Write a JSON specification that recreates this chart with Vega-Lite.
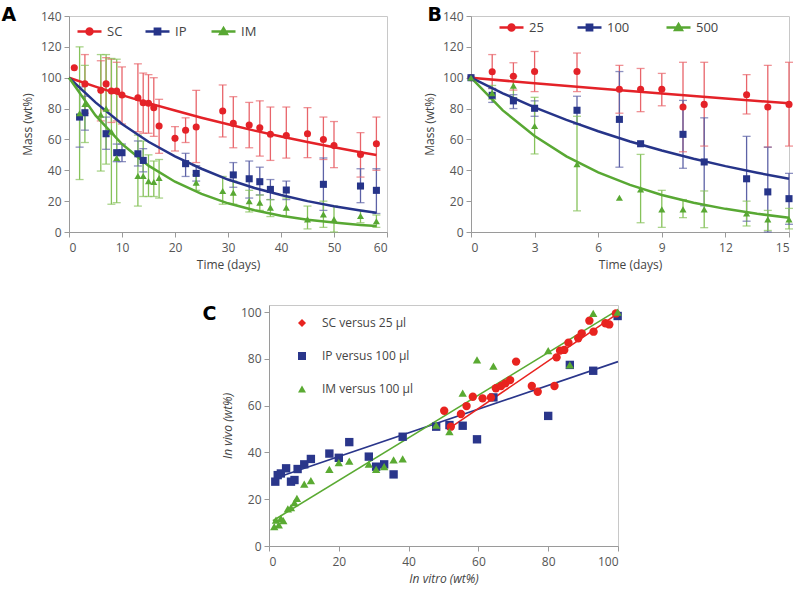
{
"$schema": "https://vega.github.io/schema/vega-lite/v6.json",
"padding": {"left": 0, "top": 5, "right": 0, "bottom": 0},
"background": "white",
"config": {
  "font": "Open Sans",
  "view": {"stroke": "#c8c8c8"},
  "axis": {"grid": false, "domainColor": "#9a9a9a", "tickColor": "#9a9a9a", "tickSize": 5, "labelFontSize": 12, "labelColor": "#555555", "titleFontSize": 12, "titleFontWeight": "normal", "titleColor": "#444444", "labelPadding": 3, "titlePadding": 6},
  "axisX": {"labelPadding": 5, "titlePadding": 6},
  "legend": {"labelFontSize": 13, "labelColor": "#444444", "padding": 0},
  "title": {"font": "DejaVu Sans", "fontSize": 19, "fontWeight": "bold", "color": "#000000"}
},
"datasets": {
  "a_pts": [
    {"g":"SC","d":1,"m":106.5},
    {"g":"SC","d":3,"m":96,"lo":77,"hi":115},
    {"g":"SC","d":6,"m":91.8,"lo":72,"hi":111},
    {"g":"SC","d":7,"m":96,"lo":79,"hi":113},
    {"g":"SC","d":8,"m":91.4,"lo":71,"hi":112},
    {"g":"SC","d":9,"m":91.4,"lo":72,"hi":110},
    {"g":"SC","d":10,"m":88.8,"lo":70,"hi":107},
    {"g":"SC","d":13,"m":87,"lo":65,"hi":109},
    {"g":"SC","d":14,"m":83.8,"lo":64,"hi":103},
    {"g":"SC","d":15,"m":83.4,"lo":64,"hi":102},
    {"g":"SC","d":16,"m":80.6,"lo":62,"hi":100},
    {"g":"SC","d":17,"m":68.7,"lo":51,"hi":86},
    {"g":"SC","d":20,"m":60.7,"lo":52.5,"hi":68.3},
    {"g":"SC","d":22,"m":66,"lo":58,"hi":74},
    {"g":"SC","d":24,"m":68,"lo":45,"hi":91.8},
    {"g":"SC","d":29,"m":78.4,"lo":61.6,"hi":95.3},
    {"g":"SC","d":31,"m":70.4,"lo":54.6,"hi":87.7},
    {"g":"SC","d":34,"m":69.3,"lo":54.6,"hi":84},
    {"g":"SC","d":36,"m":67.6,"lo":49.2,"hi":85},
    {"g":"SC","d":38,"m":63.3,"lo":46.4,"hi":81},
    {"g":"SC","d":41,"m":62.6,"lo":47.9,"hi":81},
    {"g":"SC","d":45,"m":63.7,"lo":48.2,"hi":80.6},
    {"g":"SC","d":48,"m":60,"lo":47,"hi":74.5},
    {"g":"SC","d":50,"m":56,"lo":41.7,"hi":71.6},
    {"g":"SC","d":55,"m":50.3,"lo":35.6,"hi":64.4},
    {"g":"SC","d":58,"m":57.2,"lo":40,"hi":74.5},
    {"g":"IP","d":2,"m":74.5,"lo":55,"hi":94},
    {"g":"IP","d":3,"m":77.3,"lo":66,"hi":88},
    {"g":"IP","d":7,"m":63.7,"lo":53.6,"hi":74.5},
    {"g":"IP","d":9,"m":51.4,"lo":45.6,"hi":57},
    {"g":"IP","d":10,"m":51.4,"lo":45.6,"hi":57},
    {"g":"IP","d":13,"m":50.7,"lo":42.8,"hi":59},
    {"g":"IP","d":14,"m":46.4,"lo":39,"hi":54},
    {"g":"IP","d":22,"m":44.3,"lo":36,"hi":51},
    {"g":"IP","d":24,"m":38,"lo":33,"hi":43},
    {"g":"IP","d":31,"m":37,"lo":29,"hi":45},
    {"g":"IP","d":34,"m":34.5,"lo":22,"hi":46},
    {"g":"IP","d":36,"m":32.6,"lo":24,"hi":42},
    {"g":"IP","d":38,"m":27.6,"lo":21,"hi":34},
    {"g":"IP","d":41,"m":27.2,"lo":21,"hi":33},
    {"g":"IP","d":48,"m":30.9,"lo":14,"hi":48},
    {"g":"IP","d":55,"m":29.8,"lo":19,"hi":41},
    {"g":"IP","d":58,"m":27,"lo":12,"hi":41},
    {"g":"IM","d":2,"m":77,"lo":34,"hi":120},
    {"g":"IM","d":3,"m":83,"lo":58,"hi":108},
    {"g":"IM","d":6,"m":76,"lo":39.5,"hi":115},
    {"g":"IM","d":7,"m":80,"lo":44,"hi":115},
    {"g":"IM","d":8,"m":65,"lo":18,"hi":112.5},
    {"g":"IM","d":9,"m":48,"lo":19,"hi":112},
    {"g":"IM","d":13,"m":36.3,"lo":16.8,"hi":62.8},
    {"g":"IM","d":14,"m":36.3,"lo":23,"hi":59},
    {"g":"IM","d":15,"m":33,"lo":23,"hi":50},
    {"g":"IM","d":16,"m":32.4,"lo":23,"hi":46},
    {"g":"IM","d":17,"m":35,"lo":22,"hi":47},
    {"g":"IM","d":24,"m":32,"lo":27,"hi":37},
    {"g":"IM","d":29,"m":26.6,"lo":18,"hi":36},
    {"g":"IM","d":31,"m":25.5,"lo":18,"hi":33},
    {"g":"IM","d":34,"m":20,"lo":13,"hi":27},
    {"g":"IM","d":36,"m":19,"lo":14,"hi":24},
    {"g":"IM","d":38,"m":15.8,"lo":10,"hi":21},
    {"g":"IM","d":41,"m":15.8,"lo":10,"hi":22},
    {"g":"IM","d":45,"m":8.2,"lo":2,"hi":16.8},
    {"g":"IM","d":48,"m":11.4,"lo":3,"hi":20},
    {"g":"IM","d":50,"m":8.2,"lo":0,"hi":16.8},
    {"g":"IM","d":55,"m":10.4,"lo":6,"hi":14},
    {"g":"IM","d":58,"m":7,"lo":3,"hi":11}
  ],
  "a_fit": [
    {"g":"SC","d":0,"m":100},{"g":"SC","d":5,"m":94.2},{"g":"SC","d":10,"m":88.7},{"g":"SC","d":15,"m":83.5},{"g":"SC","d":20,"m":78.7},{"g":"SC","d":25,"m":74.1},{"g":"SC","d":30,"m":69.8},{"g":"SC","d":35,"m":65.7},{"g":"SC","d":40,"m":61.9},{"g":"SC","d":45,"m":58.3},{"g":"SC","d":50,"m":54.9},{"g":"SC","d":55,"m":51.7},{"g":"SC","d":58,"m":49.9},
    {"g":"IP","d":0,"m":100},{"g":"IP","d":5,"m":84},{"g":"IP","d":10,"m":70},{"g":"IP","d":15,"m":58.5},{"g":"IP","d":20,"m":49},{"g":"IP","d":25,"m":41},{"g":"IP","d":30,"m":34},{"g":"IP","d":35,"m":28.5},{"g":"IP","d":40,"m":24},{"g":"IP","d":45,"m":20},{"g":"IP","d":50,"m":16.7},{"g":"IP","d":55,"m":14},{"g":"IP","d":58,"m":12.5},
    {"g":"IM","d":0,"m":100},{"g":"IM","d":5,"m":75.6},{"g":"IM","d":10,"m":57},{"g":"IM","d":15,"m":43},{"g":"IM","d":20,"m":32.6},{"g":"IM","d":25,"m":24.7},{"g":"IM","d":30,"m":18.6},{"g":"IM","d":35,"m":14.1},{"g":"IM","d":40,"m":10.6},{"g":"IM","d":45,"m":8},{"g":"IM","d":50,"m":6.1},{"g":"IM","d":55,"m":4.6},{"g":"IM","d":58,"m":3.9}
  ],
  "b_pts": [
    {"g":"25","d":0,"m":100},
    {"g":"25","d":1,"m":103.9,"lo":93,"hi":115},
    {"g":"25","d":2,"m":101,"lo":92,"hi":109.7},
    {"g":"25","d":3,"m":104,"lo":91,"hi":117},
    {"g":"25","d":5,"m":104,"lo":91,"hi":116},
    {"g":"25","d":7,"m":92.5,"lo":77,"hi":108},
    {"g":"25","d":8,"m":92.5,"lo":78,"hi":106},
    {"g":"25","d":9,"m":92.5,"lo":81.8,"hi":102.8},
    {"g":"25","d":10,"m":81,"lo":52,"hi":110},
    {"g":"25","d":11,"m":82.7,"lo":55.7,"hi":110},
    {"g":"25","d":13,"m":89,"lo":76.5,"hi":102},
    {"g":"25","d":14,"m":81,"lo":55,"hi":108},
    {"g":"25","d":15,"m":82.7,"lo":55.7,"hi":110},
    {"g":"100","d":0,"m":100},
    {"g":"100","d":1,"m":88.6,"lo":84,"hi":93},
    {"g":"100","d":2,"m":85,"lo":80,"hi":89},
    {"g":"100","d":3,"m":80.2,"lo":75,"hi":85},
    {"g":"100","d":5,"m":78.9,"lo":70,"hi":88},
    {"g":"100","d":7,"m":73,"lo":42,"hi":104},
    {"g":"100","d":8,"m":57.2},
    {"g":"100","d":10,"m":63.3,"lo":41.3,"hi":85.3},
    {"g":"100","d":11,"m":45.4,"lo":17,"hi":74},
    {"g":"100","d":13,"m":34.5,"lo":7,"hi":62},
    {"g":"100","d":14,"m":26,"lo":0,"hi":55},
    {"g":"100","d":15,"m":21.6,"lo":5,"hi":38},
    {"g":"500","d":0,"m":100},
    {"g":"500","d":1,"m":90,"lo":86,"hi":95},
    {"g":"500","d":2,"m":94.8,"lo":87,"hi":101},
    {"g":"500","d":3,"m":68.7,"lo":50.6,"hi":87.3},
    {"g":"500","d":5,"m":43.9,"lo":13.7,"hi":75},
    {"g":"500","d":7,"m":22.2},
    {"g":"500","d":8,"m":27.6,"lo":6,"hi":50.3},
    {"g":"500","d":9,"m":14.7,"lo":3,"hi":27},
    {"g":"500","d":10,"m":14.7,"lo":9.3,"hi":21},
    {"g":"500","d":11,"m":14.7,"lo":2.8,"hi":26.6},
    {"g":"500","d":13,"m":12.1,"lo":3.9,"hi":20},
    {"g":"500","d":14,"m":8.2,"lo":1,"hi":14},
    {"g":"500","d":15,"m":8.2,"lo":2,"hi":15.3}
  ],
  "b_fit": [
    {"g":"25","d":0,"m":100},{"g":"25","d":3,"m":96.4},{"g":"25","d":6,"m":93},{"g":"25","d":9,"m":89.7},{"g":"25","d":12,"m":86.5},{"g":"25","d":15,"m":83.4},
    {"g":"100","d":0,"m":100},{"g":"100","d":1.5,"m":89.9},{"g":"100","d":3,"m":80.8},{"g":"100","d":4.5,"m":72.7},{"g":"100","d":6,"m":65.3},{"g":"100","d":7.5,"m":58.7},{"g":"100","d":9,"m":52.8},{"g":"100","d":10.5,"m":47.5},{"g":"100","d":12,"m":42.7},{"g":"100","d":13.5,"m":38.4},{"g":"100","d":15,"m":34.5},
    {"g":"500","d":0,"m":100},{"g":"500","d":1.5,"m":78.8},{"g":"500","d":3,"m":62.2},{"g":"500","d":4.5,"m":49},{"g":"500","d":6,"m":38.7},{"g":"500","d":7.5,"m":30.5},{"g":"500","d":9,"m":24},{"g":"500","d":10.5,"m":19},{"g":"500","d":12,"m":15},{"g":"500","d":13.5,"m":11.8},{"g":"500","d":15,"m":9.3}
  ],
  "c_pts": [
    {"g":"IP versus 100 µl","x":1.8,"y":27.5},{"g":"IP versus 100 µl","x":2.5,"y":30.3},{"g":"IP versus 100 µl","x":3.4,"y":31},{"g":"IP versus 100 µl","x":4.9,"y":33.2},{"g":"IP versus 100 µl","x":6.3,"y":27.5},{"g":"IP versus 100 µl","x":7.3,"y":28.2},{"g":"IP versus 100 µl","x":8.2,"y":32.9},{"g":"IP versus 100 µl","x":10.1,"y":34.9},{"g":"IP versus 100 µl","x":12,"y":37.2},{"g":"IP versus 100 µl","x":17.3,"y":39.5},{"g":"IP versus 100 µl","x":20,"y":37.7},{"g":"IP versus 100 µl","x":23,"y":44.4},{"g":"IP versus 100 µl","x":28.6,"y":38.2},{"g":"IP versus 100 µl","x":30.7,"y":33.9},{"g":"IP versus 100 µl","x":33,"y":34.9},{"g":"IP versus 100 µl","x":35.7,"y":30.6},{"g":"IP versus 100 µl","x":38.3,"y":46.7},{"g":"IP versus 100 µl","x":47.9,"y":51},{"g":"IP versus 100 µl","x":51.7,"y":51.7},{"g":"IP versus 100 µl","x":55.5,"y":51.4},{"g":"IP versus 100 µl","x":59.6,"y":45.6},{"g":"IP versus 100 µl","x":64.3,"y":63.5},{"g":"IP versus 100 µl","x":80,"y":55.6},{"g":"IP versus 100 µl","x":86.2,"y":77.4},{"g":"IP versus 100 µl","x":92.9,"y":74.9},{"g":"IP versus 100 µl","x":99.9,"y":98.3},
    {"g":"SC versus 25 µl","x":50.2,"y":57.8},{"g":"SC versus 25 µl","x":52.1,"y":51},{"g":"SC versus 25 µl","x":55,"y":56.4},{"g":"SC versus 25 µl","x":56.6,"y":59.8},{"g":"SC versus 25 µl","x":58.4,"y":63.8},{"g":"SC versus 25 µl","x":61.2,"y":63.1},{"g":"SC versus 25 µl","x":63.6,"y":63.5},{"g":"SC versus 25 µl","x":65,"y":67.4},{"g":"SC versus 25 µl","x":66.5,"y":68.4},{"g":"SC versus 25 µl","x":67.7,"y":69.5},{"g":"SC versus 25 µl","x":69.1,"y":70.9},{"g":"SC versus 25 µl","x":70.8,"y":78.8},{"g":"SC versus 25 µl","x":75.3,"y":68.4},{"g":"SC versus 25 µl","x":77,"y":65.9},{"g":"SC versus 25 µl","x":81.8,"y":68.4},{"g":"SC versus 25 µl","x":82.4,"y":80.6},{"g":"SC versus 25 µl","x":83.4,"y":83.5},{"g":"SC versus 25 µl","x":84.6,"y":83.8},{"g":"SC versus 25 µl","x":85.8,"y":86.9},{"g":"SC versus 25 µl","x":88.6,"y":88.8},{"g":"SC versus 25 µl","x":89.6,"y":90.9},{"g":"SC versus 25 µl","x":91.8,"y":96.3},{"g":"SC versus 25 µl","x":93,"y":91.6},{"g":"SC versus 25 µl","x":96.4,"y":95.2},{"g":"SC versus 25 µl","x":97.5,"y":94.7},{"g":"SC versus 25 µl","x":99.4,"y":99.4},
    {"g":"IM versus 100 µl","x":1.5,"y":8.3},{"g":"IM versus 100 µl","x":2,"y":11.1},{"g":"IM versus 100 µl","x":2.8,"y":9},{"g":"IM versus 100 µl","x":3.4,"y":11.8},{"g":"IM versus 100 µl","x":4.1,"y":10.8},{"g":"IM versus 100 µl","x":5.4,"y":15.9},{"g":"IM versus 100 µl","x":6.3,"y":16.4},{"g":"IM versus 100 µl","x":7.3,"y":18.5},{"g":"IM versus 100 µl","x":8,"y":20.4},{"g":"IM versus 100 µl","x":10.1,"y":26.4},{"g":"IM versus 100 µl","x":12,"y":27.9},{"g":"IM versus 100 µl","x":17.3,"y":32.8},{"g":"IM versus 100 µl","x":20,"y":35.6},{"g":"IM versus 100 µl","x":23,"y":36.3},{"g":"IM versus 100 µl","x":28.6,"y":35},{"g":"IM versus 100 µl","x":30.7,"y":32.8},{"g":"IM versus 100 µl","x":33,"y":33.9},{"g":"IM versus 100 µl","x":35.7,"y":36.8},{"g":"IM versus 100 µl","x":38.3,"y":37.2},{"g":"IM versus 100 µl","x":47.9,"y":51.7},{"g":"IM versus 100 µl","x":51.7,"y":48.9},{"g":"IM versus 100 µl","x":55.5,"y":65.3},{"g":"IM versus 100 µl","x":59.6,"y":79.5},{"g":"IM versus 100 µl","x":64.3,"y":76.9},{"g":"IM versus 100 µl","x":80,"y":83.5},{"g":"IM versus 100 µl","x":86.2,"y":77.4},{"g":"IM versus 100 µl","x":92.9,"y":99.4},{"g":"IM versus 100 µl","x":99.9,"y":100}
  ],
  "c_fit": [
    {"g":"IP versus 100 µl","x":1.5,"y":28.8},{"g":"IP versus 100 µl","x":100,"y":78.8},
    {"g":"IM versus 100 µl","x":1.1,"y":10.8},{"g":"IM versus 100 µl","x":100,"y":100.9},
    {"g":"SC versus 25 µl","x":51,"y":49.6},{"g":"SC versus 25 µl","x":100,"y":99.4}
  ]
},
"spacing": 33,
"center": false,
"vconcat": [
  {"spacing": 34, "hconcat": [
    {
      "width": 318, "height": 216,
      "title": {"text": "A", "anchor": "start", "frame": "bounds", "baseline": "alphabetic", "offset": -30, "dx": -20},
      "encoding": {"x": {"field": "d", "type": "quantitative", "scale": {"domain": [0, 60]}, "axis": {"values": [0,10,20,30,40,50,60], "title": "Time (days)"}}},
      "resolve": {"scale": {"color": "independent"}},
      "layer": [
        {"data": {"name": "a_pts"}, "mark": {"type": "rule", "strokeWidth": 1.3},
         "encoding": {"y": {"field": "lo", "type": "quantitative", "scale": {"domain": [0, 140]}, "axis": {"values": [0,20,40,60,80,100,120,140]}, "title": "Mass (wt%)"}, "y2": {"field": "hi"},
           "color": {"field": "g", "type": "nominal", "scale": {"domain": ["SC","IP","IM"], "range": ["#e8646a","#5d62a6","#86c25a"]}, "legend": null}}},
        {"data": {"name": "a_pts"}, "mark": {"type": "tick", "orient": "horizontal", "size": 8, "thickness": 1.3},
         "encoding": {"y": {"field": "lo", "type": "quantitative", "axis": {"values": [0,20,40,60,80,100,120,140]}, "title": "Mass (wt%)"},
           "color": {"field": "g", "type": "nominal", "scale": {"domain": ["SC","IP","IM"], "range": ["#e8646a","#5d62a6","#86c25a"]}, "legend": null}}},
        {"data": {"name": "a_pts"}, "mark": {"type": "tick", "orient": "horizontal", "size": 8, "thickness": 1.3},
         "encoding": {"y": {"field": "hi", "type": "quantitative", "axis": {"values": [0,20,40,60,80,100,120,140]}, "title": "Mass (wt%)"},
           "color": {"field": "g", "type": "nominal", "scale": {"domain": ["SC","IP","IM"], "range": ["#e8646a","#5d62a6","#86c25a"]}, "legend": null}}},
        {"data": {"name": "a_fit"}, "mark": {"type": "line", "strokeWidth": 2.5},
         "encoding": {"y": {"field": "m", "type": "quantitative", "axis": {"values": [0,20,40,60,80,100,120,140]}, "title": "Mass (wt%)"},
           "color": {"field": "g", "type": "nominal", "scale": {"domain": ["SC","IP","IM"], "range": ["#e42228","#263489","#58a833"]}, "legend": null}}},
        {"data": {"name": "a_pts"}, "mark": {"type": "point", "filled": true, "opacity": 1, "size": 50},
         "encoding": {"y": {"field": "m", "type": "quantitative", "axis": {"values": [0,20,40,60,80,100,120,140]}, "title": "Mass (wt%)"},
           "color": {"field": "g", "type": "nominal", "scale": {"domain": ["SC","IP","IM"], "range": ["#e42228","#263489","#58a833"]}, "legend": null},
           "shape": {"field": "g", "type": "nominal", "scale": {"domain": ["SC","IP","IM"], "range": ["circle","square","triangle-up"]}, "legend": null}}},
        {"data": {"name": "a_fit"}, "mark": {"type": "point", "filled": true, "opacity": 0},
         "encoding": {"y": {"field": "m", "type": "quantitative", "axis": {"values": [0,20,40,60,80,100,120,140]}, "title": "Mass (wt%)"},
           "color": {"field": "g", "type": "nominal", "scale": {"domain": ["SC","IP","IM"], "range": ["#e42228","#263489","#58a833"]},
             "legend": {"values": ["SC"], "title": null, "orient": "none", "legendX": 7, "legendY": 2, "symbolType": "M-1,0L1,0M-0.25,0A0.25,0.25,0,1,1,0.25,0A0.25,0.25,0,1,1,-0.25,0Z", "symbolSize": 576, "symbolStrokeWidth": 2.5, "symbolStrokeColor": "#e42228", "symbolFillColor": "#e42228", "symbolOpacity": 1, "labelFontSize": 13, "labelOffset": 4}}}},
        {"data": {"name": "a_fit"}, "mark": {"type": "point", "filled": true, "opacity": 0},
         "encoding": {"y": {"field": "m", "type": "quantitative", "axis": {"values": [0,20,40,60,80,100,120,140]}, "title": "Mass (wt%)"},
           "color": {"field": "g", "type": "nominal", "scale": {"domain": ["SC","IP","IM"], "range": ["#e42228","#263489","#58a833"]},
             "legend": {"values": ["IP"], "title": null, "orient": "none", "legendX": 75, "legendY": 2, "symbolType": "M-1,0L1,0M-0.22,-0.22L0.22,-0.22L0.22,0.22L-0.22,0.22Z", "symbolSize": 576, "symbolStrokeWidth": 2.5, "symbolStrokeColor": "#263489", "symbolFillColor": "#263489", "symbolOpacity": 1, "labelFontSize": 13, "labelOffset": 4}}}},
        {"data": {"name": "a_fit"}, "mark": {"type": "point", "filled": true, "opacity": 0},
         "encoding": {"y": {"field": "m", "type": "quantitative", "axis": {"values": [0,20,40,60,80,100,120,140]}, "title": "Mass (wt%)"},
           "color": {"field": "g", "type": "nominal", "scale": {"domain": ["SC","IP","IM"], "range": ["#e42228","#263489","#58a833"]},
             "legend": {"values": ["IM"], "title": null, "orient": "none", "legendX": 141, "legendY": 2, "symbolType": "M-1,0L1,0M0,-0.28L0.28,0.2L-0.28,0.2Z", "symbolSize": 576, "symbolStrokeWidth": 2.5, "symbolStrokeColor": "#58a833", "symbolFillColor": "#58a833", "symbolOpacity": 1, "labelFontSize": 13, "labelOffset": 4}}}}
      ]
    },
    {
      "width": 318, "height": 216,
      "title": {"text": "B", "anchor": "start", "frame": "bounds", "baseline": "alphabetic", "offset": -30, "dx": 4},
      "encoding": {"x": {"field": "d", "type": "quantitative", "scale": {"domain": [0, 15]}, "axis": {"values": [0,3,6,9,12,15], "title": "Time (days)"}}},
      "resolve": {"scale": {"color": "independent"}},
      "layer": [
        {"data": {"name": "b_pts"}, "mark": {"type": "rule", "strokeWidth": 1.3},
         "encoding": {"y": {"field": "lo", "type": "quantitative", "scale": {"domain": [0, 140]}, "axis": {"values": [0,20,40,60,80,100,120,140]}, "title": "Mass (wt%)"}, "y2": {"field": "hi"},
           "color": {"field": "g", "type": "nominal", "scale": {"domain": ["25","100","500"], "range": ["#e8646a","#5d62a6","#86c25a"]}, "legend": null}}},
        {"data": {"name": "b_pts"}, "mark": {"type": "tick", "orient": "horizontal", "size": 8, "thickness": 1.3},
         "encoding": {"y": {"field": "lo", "type": "quantitative", "axis": {"values": [0,20,40,60,80,100,120,140]}, "title": "Mass (wt%)"},
           "color": {"field": "g", "type": "nominal", "scale": {"domain": ["25","100","500"], "range": ["#e8646a","#5d62a6","#86c25a"]}, "legend": null}}},
        {"data": {"name": "b_pts"}, "mark": {"type": "tick", "orient": "horizontal", "size": 8, "thickness": 1.3},
         "encoding": {"y": {"field": "hi", "type": "quantitative", "axis": {"values": [0,20,40,60,80,100,120,140]}, "title": "Mass (wt%)"},
           "color": {"field": "g", "type": "nominal", "scale": {"domain": ["25","100","500"], "range": ["#e8646a","#5d62a6","#86c25a"]}, "legend": null}}},
        {"data": {"name": "b_fit"}, "mark": {"type": "line", "strokeWidth": 2.5},
         "encoding": {"y": {"field": "m", "type": "quantitative", "axis": {"values": [0,20,40,60,80,100,120,140]}, "title": "Mass (wt%)"},
           "color": {"field": "g", "type": "nominal", "scale": {"domain": ["25","100","500"], "range": ["#e42228","#263489","#58a833"]}, "legend": null}}},
        {"data": {"name": "b_pts"}, "mark": {"type": "point", "filled": true, "opacity": 1, "size": 50},
         "encoding": {"y": {"field": "m", "type": "quantitative", "axis": {"values": [0,20,40,60,80,100,120,140]}, "title": "Mass (wt%)"},
           "color": {"field": "g", "type": "nominal", "scale": {"domain": ["25","100","500"], "range": ["#e42228","#263489","#58a833"]}, "legend": null},
           "shape": {"field": "g", "type": "nominal", "scale": {"domain": ["25","100","500"], "range": ["circle","square","triangle-up"]}, "legend": null}}},
        {"data": {"name": "b_fit"}, "mark": {"type": "point", "filled": true, "opacity": 0},
         "encoding": {"y": {"field": "m", "type": "quantitative", "axis": {"values": [0,20,40,60,80,100,120,140]}, "title": "Mass (wt%)"},
           "color": {"field": "g", "type": "nominal", "scale": {"domain": ["25","100","500"], "range": ["#e42228","#263489","#58a833"]},
             "legend": {"values": ["25"], "title": null, "orient": "none", "legendX": 27, "legendY": -2, "symbolType": "M-1,0L1,0M-0.25,0A0.25,0.25,0,1,1,0.25,0A0.25,0.25,0,1,1,-0.25,0Z", "symbolSize": 576, "symbolStrokeWidth": 2.5, "symbolStrokeColor": "#e42228", "symbolFillColor": "#e42228", "symbolOpacity": 1, "labelFontSize": 13, "labelOffset": 4}}}},
        {"data": {"name": "b_fit"}, "mark": {"type": "point", "filled": true, "opacity": 0},
         "encoding": {"y": {"field": "m", "type": "quantitative", "axis": {"values": [0,20,40,60,80,100,120,140]}, "title": "Mass (wt%)"},
           "color": {"field": "g", "type": "nominal", "scale": {"domain": ["25","100","500"], "range": ["#e42228","#263489","#58a833"]},
             "legend": {"values": ["100"], "title": null, "orient": "none", "legendX": 105, "legendY": -2, "symbolType": "M-1,0L1,0M-0.22,-0.22L0.22,-0.22L0.22,0.22L-0.22,0.22Z", "symbolSize": 576, "symbolStrokeWidth": 2.5, "symbolStrokeColor": "#263489", "symbolFillColor": "#263489", "symbolOpacity": 1, "labelFontSize": 13, "labelOffset": 4}}}},
        {"data": {"name": "b_fit"}, "mark": {"type": "point", "filled": true, "opacity": 0},
         "encoding": {"y": {"field": "m", "type": "quantitative", "axis": {"values": [0,20,40,60,80,100,120,140]}, "title": "Mass (wt%)"},
           "color": {"field": "g", "type": "nominal", "scale": {"domain": ["25","100","500"], "range": ["#e42228","#263489","#58a833"]},
             "legend": {"values": ["500"], "title": null, "orient": "none", "legendX": 194, "legendY": -2, "symbolType": "M-1,0L1,0M0,-0.28L0.28,0.2L-0.28,0.2Z", "symbolSize": 576, "symbolStrokeWidth": 2.5, "symbolStrokeColor": "#58a833", "symbolFillColor": "#58a833", "symbolOpacity": 1, "labelFontSize": 13, "labelOffset": 4}}}}
      ]
    }
  ]},
  {"spacing": 10, "hconcat": [
    {"width": 122, "height": 10, "data": {"values": [{"k": 1}]}, "mark": {"type": "text"}, "encoding": {"text": {"value": ""}}, "view": {"stroke": null}},
    {
      "width": 349, "height": 241,
      "title": {"text": "C", "anchor": "start", "frame": "bounds", "baseline": "alphabetic", "offset": -34, "dx": -19},
      "encoding": {
        "x": {"field": "x", "type": "quantitative", "scale": {"domain": [0, 100]}, "axis": {"values": [0,20,40,60,80,100], "title": "In vitro (wt%)", "titleFontStyle": "italic"}},
        "y": {"field": "y", "type": "quantitative", "scale": {"domain": [0, 103], "nice": false}, "axis": {"values": [0,20,40,60,80,100], "title": "In vivo (wt%)", "titleFontStyle": "italic"}}
      },
      "resolve": {"scale": {"color": "independent"}},
      "layer": [
        {"data": {"name": "c_fit"}, "mark": {"type": "line", "strokeWidth": 1.6},
         "encoding": {"color": {"field": "g", "type": "nominal", "scale": {"domain": ["SC versus 25 µl","IP versus 100 µl","IM versus 100 µl"], "range": ["#e8231f","#2a368b","#5aaa32"]}, "legend": null}}},
        {"data": {"name": "c_pts"}, "mark": {"type": "point", "filled": true, "opacity": 1, "size": 70},
         "encoding": {
           "color": {"field": "g", "type": "nominal", "scale": {"domain": ["SC versus 25 µl","IP versus 100 µl","IM versus 100 µl"], "range": ["#e8231f","#2a368b","#5aaa32"]}, "legend": null},
           "shape": {"field": "g", "type": "nominal", "scale": {"domain": ["SC versus 25 µl","IP versus 100 µl","IM versus 100 µl"], "range": ["diamond","square","triangle-up"]}, "legend": null}}},
        {"data": {"name": "c_fit"}, "mark": {"type": "point", "filled": true, "opacity": 0},
         "encoding": {"color": {"field": "g", "type": "nominal", "scale": {"domain": ["SC versus 25 µl","IP versus 100 µl","IM versus 100 µl"], "range": ["#e8231f","#2a368b","#5aaa32"]},
           "legend": {"values": ["SC versus 25 µl"], "title": null, "orient": "none", "legendX": 27, "legendY": 12, "symbolType": "diamond", "symbolSize": 64, "symbolStrokeWidth": 0, "symbolFillColor": "#e8231f", "symbolOpacity": 1, "labelFontSize": 12, "labelOffset": 14}}}},
        {"data": {"name": "c_fit"}, "mark": {"type": "point", "filled": true, "opacity": 0},
         "encoding": {"color": {"field": "g", "type": "nominal", "scale": {"domain": ["SC versus 25 µl","IP versus 100 µl","IM versus 100 µl"], "range": ["#e8231f","#2a368b","#5aaa32"]},
           "legend": {"values": ["IP versus 100 µl"], "title": null, "orient": "none", "legendX": 27, "legendY": 45, "symbolType": "square", "symbolSize": 64, "symbolStrokeWidth": 0, "symbolFillColor": "#2a368b", "symbolOpacity": 1, "labelFontSize": 12, "labelOffset": 14}}}},
        {"data": {"name": "c_fit"}, "mark": {"type": "point", "filled": true, "opacity": 0},
         "encoding": {"color": {"field": "g", "type": "nominal", "scale": {"domain": ["SC versus 25 µl","IP versus 100 µl","IM versus 100 µl"], "range": ["#e8231f","#2a368b","#5aaa32"]},
           "legend": {"values": ["IM versus 100 µl"], "title": null, "orient": "none", "legendX": 27, "legendY": 78, "symbolType": "triangle-up", "symbolSize": 64, "symbolStrokeWidth": 0, "symbolFillColor": "#5aaa32", "symbolOpacity": 1, "labelFontSize": 12, "labelOffset": 14}}}}
      ]
    }
  ]}
]
}
